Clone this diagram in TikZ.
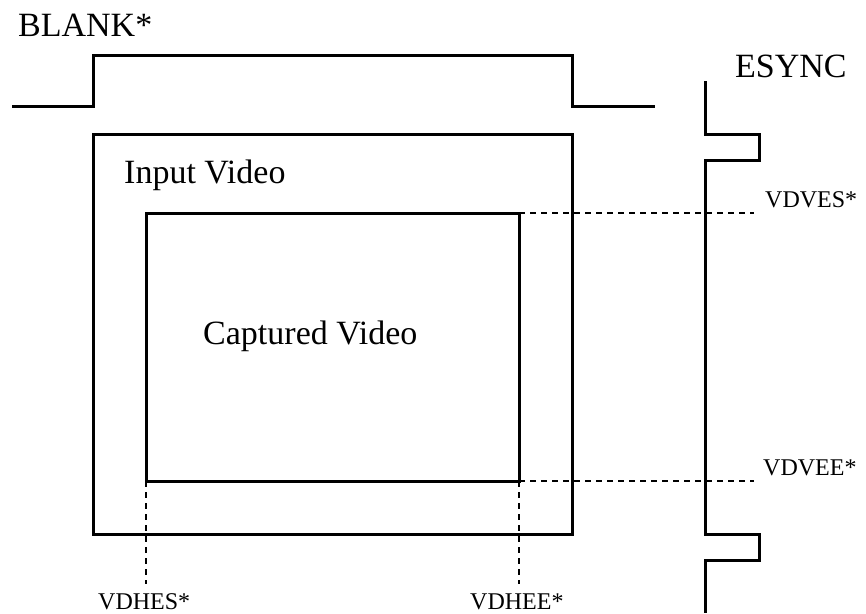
\documentclass[tikz,border=0pt]{standalone}
\usepackage{fontspec}
\setmainfont{Liberation Serif}
\begin{document}
\begin{tikzpicture}[x=1pt,y=-1pt,
  sig/.style={line width=3pt,line join=miter},
  frame/.style={draw,line width=3pt,inner sep=0pt,outer sep=0pt},
  guide/.style={line width=2pt,dash pattern=on 6pt off 5pt},
  big/.style={anchor=base west,inner sep=0pt,font=\fontsize{34}{41}\selectfont},
  small/.style={anchor=base west,inner sep=0pt,font=\fontsize{24}{29}\selectfont}]
\useasboundingbox (0,0) rectangle (866,613);
% video frames
\node[frame,minimum width=479pt,minimum height=400pt] (input) at (332.5,334) {};
\node[frame,minimum width=373pt,minimum height=268pt] (cap) at (332.5,347) {};
% BLANK* signal
\coordinate (b0) at (12,106);
\coordinate (b1) at (655,106);
\draw[sig] (b0) -- (input.north west |- b0) -- (input.north west |- 0,55)
  -- (input.north east |- 0,55) -- (input.north east |- b1) -- (b1);
% ESYNC signal
\coordinate (e0) at (705,81);
\coordinate (e1) at (705,613);
\draw[sig] (e0) -- (705,134) -- (759,134) -- (759,160) -- (705,160)
  -- (705,534) -- (759,534) -- (759,560) -- (705,560) -- (e1);
% guide lines
\coordinate (ves) at (754,213);
\coordinate (vee) at (754,481);
\coordinate (hes) at (146,584);
\coordinate (hee) at (519,584);
\draw[guide] (cap.north east) -- (cap.north east -| ves);
\draw[guide] (cap.south east) -- (cap.south east -| vee);
\draw[guide] (cap.south west) -- (cap.south west |- hes);
\draw[guide] (cap.south east) -- (cap.south east |- hee);
% labels
\node[big] (lblank) at (18,36) {BLANK*};
\node[big] (lesync) at (735,77) {ESYNC};
\node[big] (linput) at (124,183) {Input Video};
\node[big] (lcap) at (203,344) {Captured Video};
\node[small] (lves) at (765,207) {VDVES*};
\node[small] (lvee) at (763,475) {VDVEE*};
\node[small] (lhes) at (98,609) {VDHES*};
\node[small] (lhee) at (470,609) {VDHEE*};
\end{tikzpicture}
\end{document}
